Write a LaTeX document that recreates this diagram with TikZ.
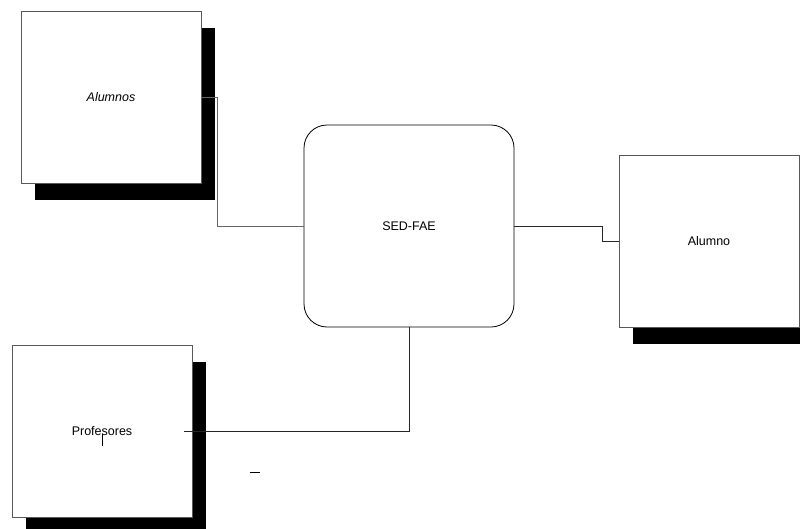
\documentclass[tikz,border=0pt]{standalone}
\usepackage{fontspec}
\setmainfont{Liberation Sans}
\usetikzlibrary{shadows}
\begin{document}
\begin{tikzpicture}[x=1pt,y=-1pt,
  entity/.style={draw=black!65,line width=0.8pt,fill=white,minimum width=180pt,minimum height=172pt,inner sep=0pt,
    font=\fontsize{12.5}{14}\selectfont,
    drop shadow={shadow xshift=14pt,shadow yshift=-17pt,opacity=1,fill=black}},
  process/.style={draw=black,line width=0.8pt,fill=white,rounded corners=23pt,minimum width=210pt,minimum height=202pt,inner sep=0pt,
    font=\fontsize{12.5}{14}\selectfont},
  link/.style={line width=0.8pt,draw=black!85},
  tick/.style={line width=0.9pt,draw=black}]
\useasboundingbox (0,0) rectangle (800,528);
\node[entity,font=\fontsize{12.5}{14}\selectfont\itshape] (alumnos) at (111,97) {Alumnos};
\node[entity] (alumno) at (709,241) {Alumno};
\node[entity] (profesores) at (102,431) {Profesores};
\node[process] (sed) at (409,226) {SED-FAE};
\coordinate (pstart) at (184,431);
\draw[link,draw=black!60] (alumnos.east) -- (217,97) |- (sed.west);
\draw[link] (sed.east) -- (602,226) |- (alumno.west);
\draw[link] (pstart) -| (sed.south);
\coordinate (t1) at (102,434);
\coordinate (t2) at (102,446);
\draw[tick] (t1) -- (t2);
\coordinate (u1) at (250,472);
\coordinate (u2) at (260,472);
\draw[tick] (u1) -- (u2);
\end{tikzpicture}
\end{document}
